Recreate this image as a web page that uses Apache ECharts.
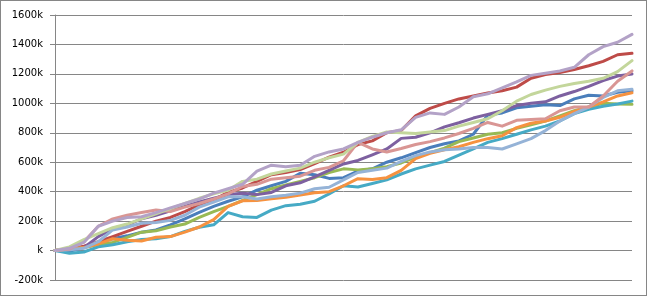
<!DOCTYPE html>
<html>
<head>
<meta charset="utf-8">
<script src="https://cdn.jsdelivr.net/npm/echarts@6/dist/echarts.min.js"></script>
<style>
html,body{margin:0;padding:0;background:#fff;}
#c{width:647px;height:296px;box-sizing:border-box;border:1px solid #868686;}
</style>
</head>
<body>
<div id="c"></div>
<script>
// values in thousands
const steps = Array.from({length: 41}, (_, i) => i);
const yTicks = [-200, 0, 200, 400, 600, 800, 1000, 1200, 1400, 1600];

const blue = [0,-5,20,55,80,100,125,140,175,215,260,300,335,365,410,440,470,525,515,490,495,540,555,600,630,665,700,725,745,790,920,935,970,980,990,985,1030,1055,1050,1075,1085];
const red = [0,10,30,60,95,130,165,200,225,265,310,345,395,425,470,515,530,550,590,635,668,720,745,800,815,915,966,1000,1030,1050,1070,1085,1110,1170,1195,1210,1230,1255,1285,1330,1340];
const green = [0,10,20,40,55,90,125,135,160,180,225,265,300,340,380,420,445,470,495,530,555,548,555,570,595,635,665,695,740,765,790,800,830,855,880,915,950,975,1000,995,993];
const purple = [0,5,20,95,150,175,215,240,270,300,330,355,380,390,380,395,440,460,500,545,588,612,650,690,762,770,800,840,868,900,925,950,985,1000,1010,1050,1080,1115,1155,1185,1199];
const teal = [0,-18,-10,25,40,60,75,80,95,130,158,175,258,230,225,275,305,315,335,385,440,432,455,480,520,555,580,605,648,690,735,760,790,820,845,880,930,960,980,995,1015];
const orange = [0,10,20,45,80,70,65,90,95,125,160,210,300,338,340,352,362,378,392,400,440,488,482,495,545,625,660,685,705,735,760,780,835,865,880,905,945,975,1010,1050,1072];
const lightBlue = [0,5,15,60,140,160,185,190,205,240,295,330,365,365,350,365,375,390,420,430,480,530,545,560,605,645,670,685,690,700,700,690,725,760,815,880,930,975,1040,1085,1095];
const pink = [0,10,60,165,215,240,258,275,265,295,320,350,385,435,450,485,495,505,545,565,610,735,690,670,693,720,740,765,795,830,870,845,885,890,895,950,975,975,1050,1150,1220];
const lightGreen = [0,25,75,115,155,180,215,250,285,320,355,385,410,470,485,520,540,560,600,630,655,735,775,805,800,795,805,815,845,870,895,950,1015,1060,1090,1115,1135,1150,1170,1215,1290];
const lightPurple = [0,15,55,165,200,225,230,258,290,320,350,390,420,450,540,580,570,580,640,670,690,735,770,800,820,905,935,925,975,1045,1065,1105,1145,1190,1205,1220,1245,1330,1385,1415,1468];

const seriesDefs = [
  ['Series1', blue, '#4A7EBB'],
  ['Series2', red, '#BE4B48'],
  ['Series3', green, '#98B954'],
  ['Series4', purple, '#7D60A0'],
  ['Series5', teal, '#46AAC5'],
  ['Series6', orange, '#F69240'],
  ['Series7', lightBlue, '#95B3D7'],
  ['Series8', pink, '#D99694'],
  ['Series9', lightGreen, '#C3D69B'],
  ['Series10', lightPurple, '#B3A2C7']
];

const chart = echarts.init(document.getElementById('c'), null, {renderer: 'canvas'});
chart.setOption({
  animation: false,
  backgroundColor: '#fff',
  grid: {left: 54, right: 14, top: 14, bottom: 15, containLabel: false},
  xAxis: {
    type: 'category',
    data: steps,
    boundaryGap: false,
    axisLine: {show: false},
    axisTick: {show: false},
    axisLabel: {show: false},
    splitLine: {show: false}
  },
  yAxis: {
    type: 'value',
    min: yTicks[0],
    max: yTicks[yTicks.length - 1],
    interval: 200,
    axisLine: {show: true, lineStyle: {color: '#868686', width: 1}},
    axisTick: {show: true, length: 5, inside: false, lineStyle: {color: '#868686'}},
    axisLabel: {
      margin: 12,
      color: '#000',
      fontFamily: 'DejaVu Sans',
      fontSize: 10,
      formatter: v => (v === 0 ? '' : v) + 'k'
    },
    splitLine: {show: true, lineStyle: {color: '#868686', width: 1}}
  },
  series: seriesDefs.map(([name, data, color]) => ({
    name: name,
    type: 'line',
    data: data,
    symbol: 'none',
    smooth: false,
    lineStyle: {color: color, width: 3, join: 'round', cap: 'round'},
    itemStyle: {color: color}
  }))
});
</script>
</body>
</html>
